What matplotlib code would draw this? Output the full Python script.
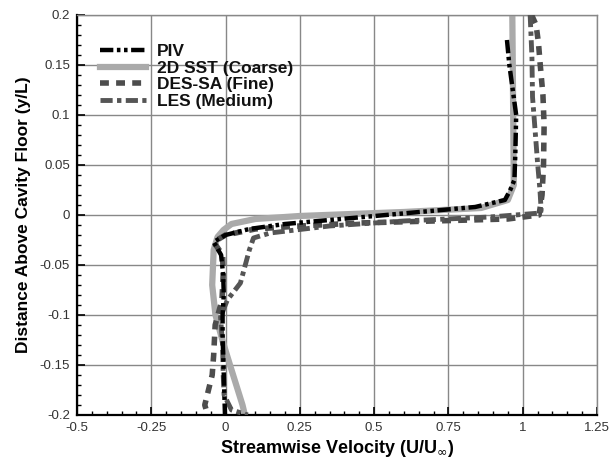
import numpy as np
import matplotlib.pyplot as plt
from matplotlib.ticker import MultipleLocator

plt.rcParams['font.family'] = ['Liberation Sans', 'DejaVu Sans']

# PIV (black, dash-dot-dot)
piv_x = [0.947, 0.955, 0.978, 0.975, 0.972, 0.958, 0.94, 0.84, 0.69, 0.465, 0.35, 0.2, 0.08, 0.0, -0.04,
         -0.015, -0.008, -0.006, -0.01, -0.01, -0.008, -0.006, -0.004, -0.002]
piv_y = [0.175, 0.15, 0.10, 0.06, 0.035, 0.025, 0.015, 0.008, 0.004, -0.002, -0.005, -0.009, -0.014, -0.02, -0.027,
         -0.04, -0.06, -0.08, -0.10, -0.12, -0.14, -0.16, -0.18, -0.2]

# 2D SST coarse (light gray solid)
sst_x = [0.965, 0.968, 0.97, 0.95, 0.86, 0.6, 0.25, 0.1, 0.02, -0.007, -0.027, -0.04, -0.045, -0.034,
         -0.011, 0.017, 0.057, 0.065]
sst_y = [0.2, 0.1, 0.03, 0.015, 0.007, 0.003, -0.001, -0.004, -0.009, -0.015, -0.022, -0.035, -0.07, -0.1,
         -0.125, -0.152, -0.19, -0.2]

# DES-SA fine (dark gray dashed)
des_x = [1.03, 1.045, 1.053, 1.059, 1.068, 1.072, 1.07, 1.065, 1.055, 0.95, 0.7, 0.45, 0.25, 0.1, 0.0, -0.04,
         -0.01, -0.008, -0.012, -0.035, -0.04, -0.045, -0.06, -0.07, -0.06]
des_y = [0.2, 0.19, 0.172, 0.15, 0.12, 0.09, 0.05, 0.02, 0.0, -0.004, -0.006, -0.008, -0.011, -0.014, -0.02, -0.027,
         -0.04, -0.06, -0.085, -0.11, -0.14, -0.16, -0.178, -0.19, -0.2]

# LES medium (dark gray dash-dot)
les_x = [1.025, 1.031, 1.033, 1.039, 1.05, 1.058, 1.062, 1.06, 0.89, 0.6, 0.35, 0.15, 0.094, 0.08, 0.05,
         0.006, -0.017, -0.01, -0.008, -0.005, 0.02, 0.075]
les_y = [0.2, 0.158, 0.118, 0.095, 0.052, 0.025, 0.005, 0.002, -0.002, -0.006, -0.011, -0.018, -0.023, -0.035,
         -0.068, -0.085, -0.102, -0.13, -0.16, -0.18, -0.195, -0.2]

fig = plt.figure(figsize=(6.12, 4.61), dpi=100)
ax = fig.add_axes([0.1258, 0.0998, 0.8497, 0.8677])

ax.plot(piv_x, piv_y, color='black', lw=3.2, dashes=(3, 0.8, 0.8, 0.8, 0.8, 0.8), label='PIV', zorder=4)
ax.plot(sst_x, sst_y, color='#aaaaaa', lw=4.5, label='2D SST (Coarse)', zorder=2)
ax.plot(des_x, des_y, color='#4d4d4d', lw=4, dashes=(1.6, 1.3), label='DES-SA (Fine)', zorder=3)
ax.plot(les_x, les_y, color='#555555', lw=3.5, dashes=(2.5, 0.9, 0.9, 0.9), label='LES (Medium)', zorder=3)

ax.set_xlim(-0.5, 1.25)
ax.set_ylim(-0.2, 0.2)
ax.xaxis.set_major_locator(MultipleLocator(0.25))
ax.xaxis.set_minor_locator(MultipleLocator(0.05))
ax.yaxis.set_major_locator(MultipleLocator(0.05))
ax.yaxis.set_minor_locator(MultipleLocator(0.01))
ax.set_xticks([-0.5, -0.25, 0, 0.25, 0.5, 0.75, 1, 1.25])
ax.set_xticklabels(['-0.5', '-0.25', '0', '0.25', '0.5', '0.75', '1', '1.25'])
ax.set_yticks([-0.2, -0.15, -0.1, -0.05, 0, 0.05, 0.1, 0.15, 0.2])
ax.set_yticklabels(['-0.2', '-0.15', '-0.1', '-0.05', '0', '0.05', '0.1', '0.15', '0.2'])

ax.grid(True, which='major', color='#888888', lw=1)
ax.set_axisbelow(True)
ax.tick_params(which='both', direction='in', top=False, right=False, colors='black',
               labelcolor='#333333', labelsize=9.5)
ax.tick_params(which='major', length=6, width=1.2, pad=5)
ax.tick_params(which='minor', length=3, width=1)
for s in ['left', 'bottom']:
    ax.spines[s].set_linewidth(1.6)
    ax.spines[s].set_color('black')
for s in ['top', 'right']:
    ax.spines[s].set_linewidth(1)
    ax.spines[s].set_color('#888888')

ax.set_xlabel(r'Streamwise Velocity (U/U$_{\infty}$)', fontsize=13, fontweight='bold', labelpad=3)
ax.set_ylabel('Distance Above Cavity Floor (y/L)', fontsize=12.5, fontweight='bold', labelpad=6)

leg = ax.legend(loc='upper left', bbox_to_anchor=(0.03, 0.945), frameon=False, fontsize=12.5,
                handlelength=2.7, handletextpad=0.6, labelspacing=0.08, borderaxespad=0)
for t in leg.get_texts():
    t.set_fontweight('bold')
    t.set_color('#111111')

fig.savefig('out.png', dpi=100)
